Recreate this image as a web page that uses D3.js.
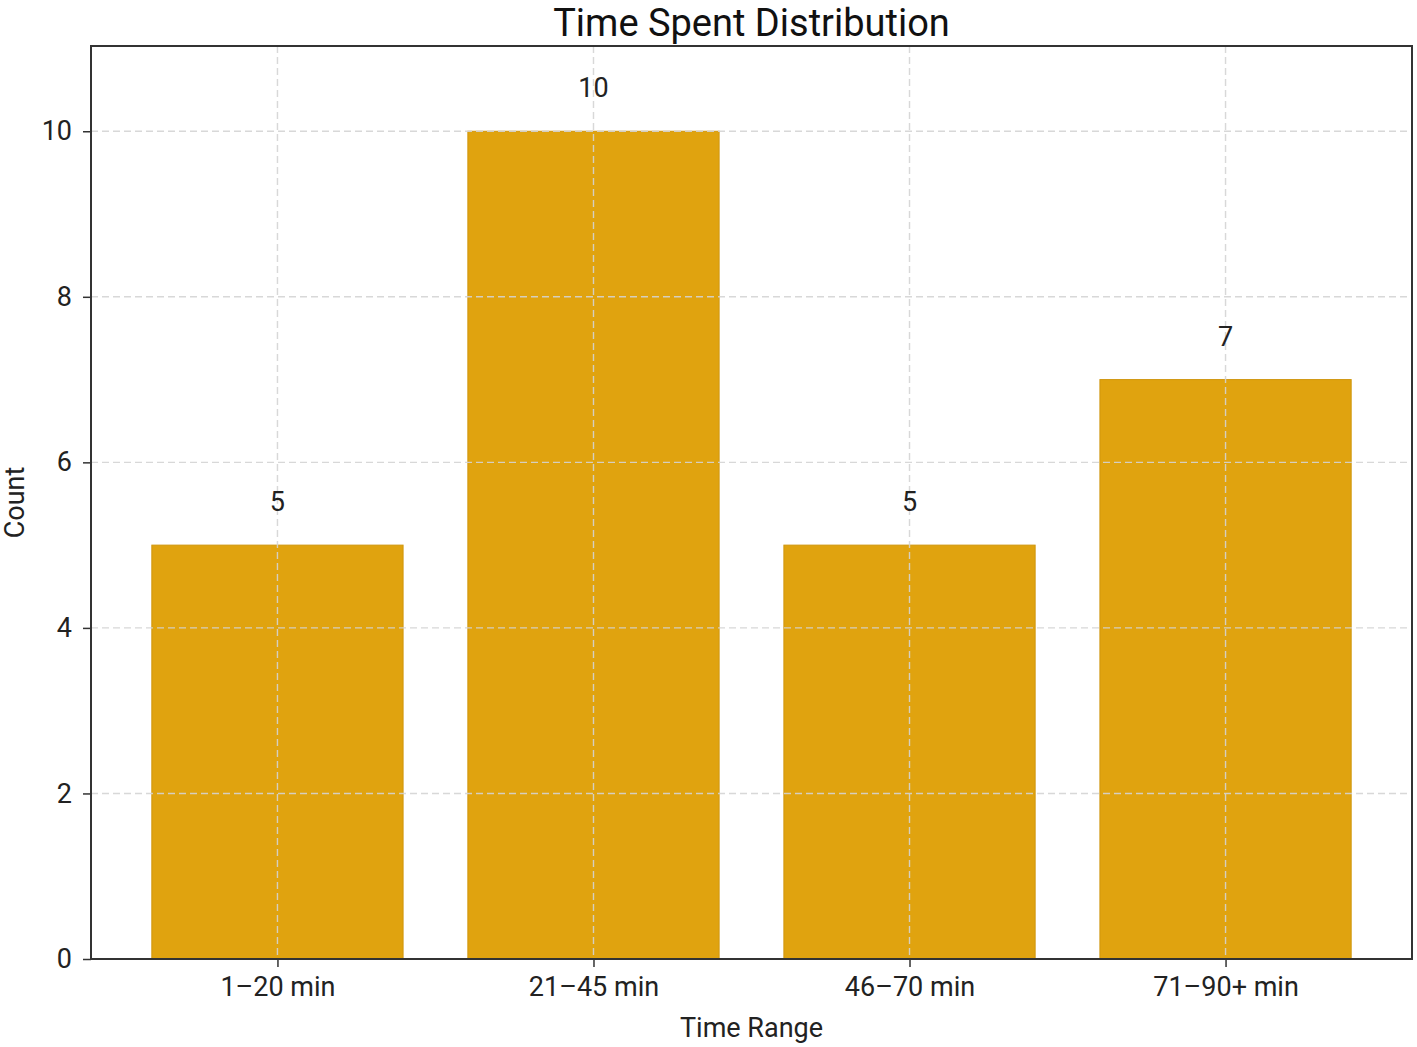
<!DOCTYPE html>
<html><head><meta charset="utf-8">
<script src="https://cdn.jsdelivr.net/npm/d3@7"></script>
<style>body{margin:0;background:#fff}svg{display:block}</style>
</head><body>
<script>
const categories = ["1\u201320 min", "21\u201345 min", "46\u201370 min", "71\u201390+ min"];
const counts = [5, 10, 5, 7];
const yTicks = [0, 2, 4, 6, 8, 10];
const title = "Time Spent Distribution";
const xLabel = "Time Range";
const yLabel = "Count";

const W = 1417, H = 1047;
const m = {left: 91, right: 5, top: 46, bottom: 88};
const font = "Roboto, 'Open Sans', sans-serif";
const svg = d3.select("body").append("svg").attr("width", W).attr("height", H);

const x = d3.scaleLinear().domain([-0.59, categories.length - 1 + 0.59]).range([m.left, W - m.right]);
const y = d3.scaleLinear().domain([0, 11.03]).range([H - m.bottom, m.top]);
const bw = x(0.795) - x(0);

const g = svg.append("g");
// bars
g.selectAll("rect.bar").data(counts).join("rect")
  .attr("x", (d, i) => x(i) - bw / 2).attr("width", bw)
  .attr("y", d => y(d)).attr("height", d => y(0) - y(d))
  .attr("fill", "#E0A30F").attr("stroke", "#D0960C").attr("stroke-width", 1);

// grid
const grid = g.append("g").attr("stroke", "#d4d4d4").attr("stroke-dasharray", "7,4").attr("stroke-width", 1.4).attr("opacity", 0.9);
grid.selectAll("line.h").data(yTicks).join("line")
  .attr("x1", m.left).attr("x2", W - m.right).attr("y1", d => y(d)).attr("y2", d => y(d));
grid.selectAll("line.v").data(categories).join("line")
  .attr("x1", (d, i) => x(i)).attr("x2", (d, i) => x(i)).attr("y1", m.top).attr("y2", H - m.bottom);

// value labels
g.selectAll("text.val").data(counts).join("text")
  .attr("x", (d, i) => x(i)).attr("y", d => y(d) - 34)
  .attr("text-anchor", "middle").attr("font-family", font).attr("font-size", 27).attr("fill", "#222")
  .text(d => d);

// axes
const yAxis = d3.axisLeft(y).tickValues(yTicks).tickSize(8).tickPadding(11);
const yg = svg.append("g").attr("transform", `translate(${m.left},0)`).call(yAxis);
const xAxis = d3.axisBottom(x).tickValues(d3.range(categories.length)).tickFormat(i => categories[i]).tickSize(8).tickPadding(10);
const xg = svg.append("g").attr("transform", `translate(0,${H - m.bottom})`).call(xAxis);
[yg, xg].forEach(a => {
  a.select(".domain").remove();
  a.selectAll(".tick line").attr("stroke", "#333").attr("stroke-width", 1.5);
  a.selectAll(".tick text").attr("font-family", font).attr("font-size", 27).attr("fill", "#222");
});

// frame
svg.append("rect").attr("x", m.left).attr("y", m.top).attr("width", W - m.left - m.right).attr("height", H - m.top - m.bottom)
  .attr("fill", "none").attr("stroke", "#333").attr("stroke-width", 2);

// titles
svg.append("text").attr("x", (m.left + W - m.right) / 2).attr("y", 36).attr("text-anchor", "middle")
  .attr("font-family", font).attr("font-size", 38).attr("fill", "#111").text(title);
svg.append("text").attr("x", (m.left + W - m.right) / 2).attr("y", 1037).attr("text-anchor", "middle")
  .attr("font-family", font).attr("font-size", 27).attr("fill", "#222").text(xLabel);
svg.append("text").attr("transform", `translate(24,${(m.top + H - m.bottom) / 2}) rotate(-90)`).attr("text-anchor", "middle")
  .attr("font-family", font).attr("font-size", 27).attr("fill", "#222").text(yLabel);
</script>
</body></html>
